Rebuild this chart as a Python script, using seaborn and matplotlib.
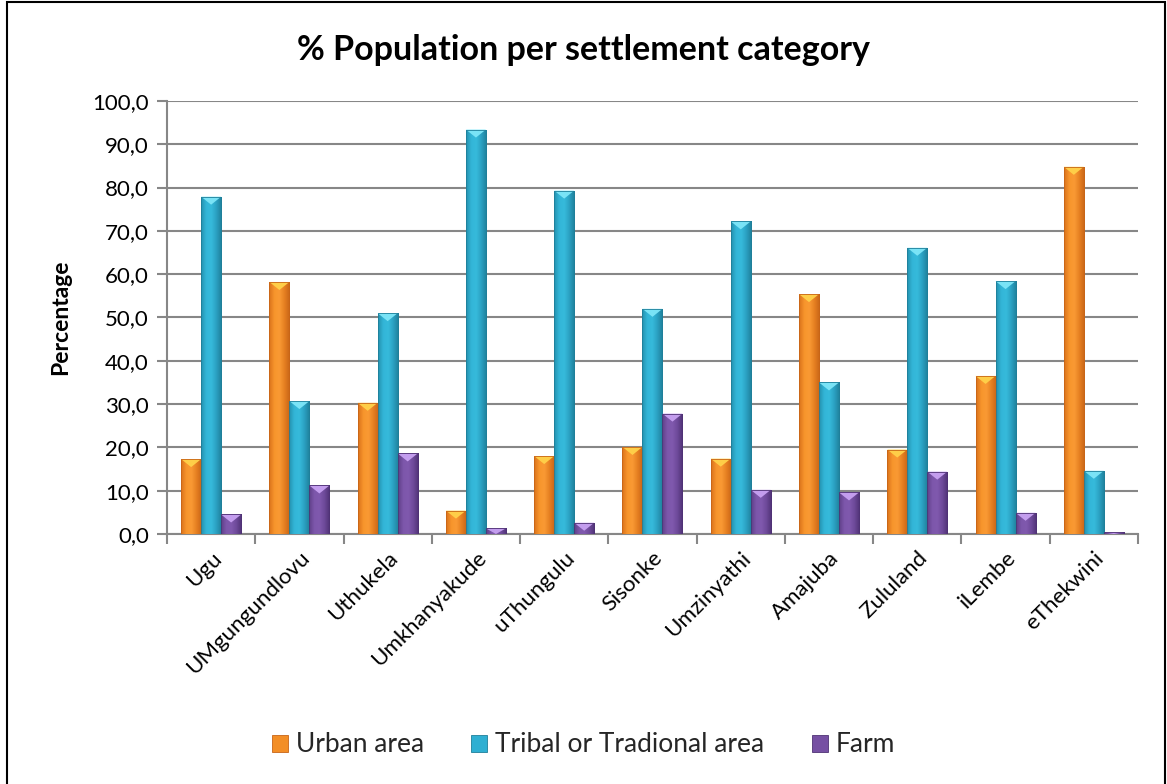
import numpy as np
import pandas as pd
import matplotlib
matplotlib.use("Agg")
import matplotlib.pyplot as plt
from matplotlib.patches import Polygon, Rectangle
from matplotlib.colors import LinearSegmentedColormap
from matplotlib.ticker import FuncFormatter, FixedLocator
import seaborn as sns

# District municipalities and settlement shares (%)
districts = ["Ugu", "UMgungundlovu", "Uthukela", "Umkhanyakude", "uThungulu",
             "Sisonke", "Umzinyathi", "Amajuba", "Zululand", "iLembe", "eThekwini"]
urban = [17.3, 58.2, 30.3, 5.4, 18.0, 20.1, 17.4, 55.4, 19.5, 36.5, 84.8]
tribal = [77.9, 30.7, 51.0, 93.4, 79.3, 52.0, 72.2, 35.0, 66.1, 58.4, 14.6]
farm = [4.5, 11.2, 18.6, 1.3, 2.6, 27.8, 10.2, 9.6, 14.4, 4.9, 0.4]
series = ["Urban area", "Tribal or Tradional area", "Farm"]

df = pd.DataFrame({
    "District": districts * 3,
    "Category": [series[0]] * 11 + [series[1]] * 11 + [series[2]] * 11,
    "Percentage": urban + tribal + farm,
})

base = {"Urban area": "#F38E26", "Tribal or Tradional area": "#2FAFD2", "Farm": "#7650A3"}
shades = {
    "Urban area": ["#D9711B", "#F7952C", "#FA9A34", "#E57F21", "#C86517"],
    "Tribal or Tradional area": ["#2390AE", "#33B6D8", "#36BADB", "#2A9FC0", "#1F7F9A"],
    "Farm": ["#5F3F88", "#7D57AB", "#8059AE", "#6D4999", "#4F3275"],
}
caps = {"Urban area": "#FFD24A", "Tribal or Tradional area": "#7EE6F8", "Farm": "#C8A2F2"}

sns.set_theme(style="white")
plt.rcParams["font.family"] = ["Lato", "DejaVu Sans"]

fig = plt.figure(figsize=(11.67, 7.84), dpi=100)
ax = fig.add_axes([0.1431, 0.3189, 0.8320, 0.5523])

sns.barplot(data=df, x="District", y="Percentage", hue="Category",
            hue_order=series, palette=base, width=0.68, gap=0,
            saturation=1, legend=False, ax=ax, zorder=3)

ax.set_ylim(0, 100)
ax.set_xlim(-0.5, len(districts) - 0.5)

# Beveled look: horizontal shading inside each bar plus a lighter top facet
bars = [p for p in ax.patches if isinstance(p, Rectangle)]
per = len(districts)
tri_h = 8 / (ax.get_window_extent().height / 100.0)
for i, p in enumerate(bars):
    cat = series[i // per]
    x0, w, h = p.get_x(), p.get_width(), p.get_height()
    if h <= 0:
        continue
    cmap = LinearSegmentedColormap.from_list(cat, shades[cat])
    grad = np.linspace(0, 1, 64).reshape(1, -1)
    im = ax.imshow(grad, cmap=cmap, extent=[x0, x0 + w, 0, h], aspect="auto",
                   zorder=3.5, interpolation="bicubic")
    im.set_clip_path(p)
    p.set_edgecolor(shades[cat][4])
    p.set_linewidth(0.6)
    th = min(tri_h, h)
    tri = Polygon([(x0, h), (x0 + w, h), (x0 + w / 2, h - th)], closed=True,
                  facecolor=caps[cat], edgecolor="none", zorder=3.7, alpha=0.95)
    ax.add_patch(tri)
    ax.add_patch(Rectangle((x0, 0), w, h, fill=False, edgecolor=shades[cat][4],
                           linewidth=0.6, zorder=3.8))

ax.set_xlim(-0.5, len(districts) - 0.5)
ax.set_ylim(0, 100)

# Grid and axes styling
ax.yaxis.set_major_locator(FixedLocator(np.arange(0, 101, 10)))
ax.yaxis.set_major_formatter(FuncFormatter(lambda v, _: f"{v:.1f}".replace(".", ",")))
ax.grid(axis="y", color="#878787", linewidth=1.5, zorder=0)
ax.grid(axis="x", visible=False)
ax.set_axisbelow(True)
for s in ["top", "right"]:
    ax.spines[s].set_visible(False)
for s in ["left", "bottom"]:
    ax.spines[s].set_color("#878787")
    ax.spines[s].set_linewidth(1.5)

ax.set_xticks(np.arange(len(districts)))
ax.set_xticklabels(districts, rotation=45, ha="right", rotation_mode="anchor",
                   fontsize=16, color="black")
ax.tick_params(axis="x", length=0, pad=10)
ax.set_xticks(np.arange(-0.5, len(districts)), minor=True)
ax.tick_params(axis="x", which="minor", length=7, width=1.5, color="#878787",
               direction="out", bottom=True)
ax.tick_params(axis="y", length=7, width=1.5, color="#878787", direction="out",
               left=True, labelsize=16, labelcolor="black", pad=6)

ax.set_xlabel("")
ax.set_ylabel("Percentage", fontsize=16.5, fontweight="bold", color="black", labelpad=15)

fig.text(0.5, 1 - 50 / 784, "% Population per settlement category", ha="center",
         va="center", fontsize=24.5, fontweight="bold", color="black")

# Legend
handles = [Rectangle((0, 0), 1, 1, facecolor=base[s], edgecolor=shades[s][4], linewidth=0.6)
           for s in series]
fig.legend(handles, series, loc="center", bbox_to_anchor=(0.5, 1 - 745 / 784), ncol=3,
           frameon=False, fontsize=19, handlelength=0.6, handleheight=0.6,
           handletextpad=0.3, columnspacing=1.8)

# Outer chart border
fig.patches.append(Rectangle((7 / 1167, -0.01), (1165 - 7) / 1167, 1 - 2 / 784 + 0.01,
                             transform=fig.transFigure, fill=False,
                             edgecolor="black", linewidth=1.5))

fig.savefig("out.png", dpi=100)
